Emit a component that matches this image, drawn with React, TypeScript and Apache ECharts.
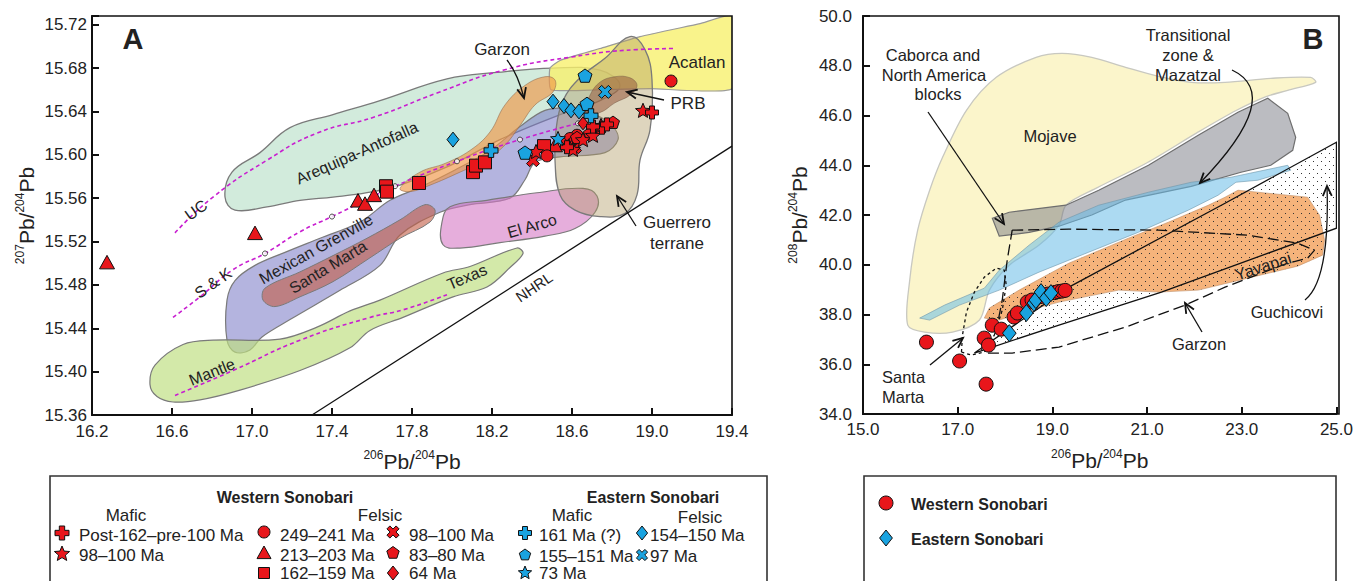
import React, { useEffect, useRef } from 'react';
import * as echarts from 'echarts';

const FONT = '"Liberation Sans", Arial, Helvetica, sans-serif';
const RED = '#e8161b';
const BLUE = '#1aa3e0';

// ---------- Panel A: 207Pb/204Pb vs 206Pb/204Pb ----------
// Western Sonobari
const wMaficPost162 = [[19.0, 15.639], [18.75, 15.625], [18.775, 15.628], [18.705, 15.626], [18.575, 15.607]];
const wMafic98 = [[18.42, 15.603], [18.955, 15.641], [18.585, 15.608], [18.655, 15.614], [18.605, 15.605], [18.705, 15.618], [18.745, 15.627]];
const wFelsic249 = [[18.475, 15.599], [19.095, 15.668], [18.625, 15.618], [18.715, 15.623], [18.59, 15.615]];
const wFelsic213 = [[16.275, 15.501], [17.015, 15.528], [17.53, 15.558], [17.565, 15.555], [17.61, 15.563], [18.515, 15.609]];
const wFelsic162 = [[17.67, 15.571], [17.675, 15.566], [17.835, 15.574], [18.105, 15.584], [18.12, 15.59], [18.165, 15.593], [18.46, 15.608]];
const wFelsic98 = [[18.405, 15.595], [18.575, 15.61], [18.615, 15.607]];
const wFelsic83 = [[18.805, 15.63], [18.625, 15.616], [18.69, 15.62]];
const wFelsic64 = [[18.655, 15.629]];
// Eastern Sonobari
const eMafic161 = [[18.195, 15.604], [18.695, 15.636]];
const eMafic155 = [[18.665, 15.673], [18.675, 15.647], [18.365, 15.602]];
const eMafic73 = [[18.53, 15.615]];
const eFelsic154 = [[18.005, 15.614], [18.505, 15.649], [18.56, 15.645], [18.595, 15.641], [18.635, 15.64]];
const eFelsic97 = [[18.765, 15.658]];

// Reference fields (outlines)
const fieldArequipa = [[16.865, 15.561], [16.9, 15.584], [17.04, 15.602], [17.19, 15.625], [17.405, 15.637], [17.64, 15.65], [17.975, 15.67], [18.225, 15.676], [18.505, 15.68], [18.74, 15.678], [18.84, 15.664], [18.74, 15.65], [18.54, 15.637], [18.24, 15.614], [17.99, 15.59], [17.74, 15.572], [17.575, 15.565], [17.405, 15.561], [17.24, 15.558], [17.075, 15.552], [16.915, 15.549]];
const fieldAcatlan = [[18.495, 15.66], [18.49, 15.68], [18.54, 15.687], [18.74, 15.698], [18.94, 15.709], [19.24, 15.721], [19.4, 15.728], [19.4, 15.661], [18.99, 15.661], [18.74, 15.66]];
const fieldGuerrero = [[18.89, 15.709], [18.965, 15.697], [19.0, 15.669], [18.99, 15.623], [18.94, 15.595], [18.925, 15.563], [18.865, 15.546], [18.74, 15.543], [18.615, 15.549], [18.54, 15.563], [18.515, 15.595], [18.52, 15.623], [18.555, 15.65], [18.64, 15.671], [18.765, 15.689]];
const fieldPRB = [[18.665, 15.639], [18.69, 15.655], [18.74, 15.667], [18.815, 15.672], [18.89, 15.671], [18.925, 15.664], [18.89, 15.655], [18.815, 15.648], [18.74, 15.639]];
const fieldGarzonA = [[17.74, 15.569], [17.84, 15.584], [17.965, 15.592], [18.09, 15.604], [18.19, 15.621], [18.265, 15.646], [18.365, 15.664], [18.465, 15.672], [18.515, 15.669], [18.505, 15.658], [18.415, 15.646], [18.34, 15.627], [18.265, 15.609], [18.165, 15.595], [18.04, 15.584], [17.89, 15.572], [17.79, 15.566]];
const fieldGrenville = [[18.83, 15.614], [18.765, 15.602], [18.54, 15.598], [18.415, 15.593], [18.365, 15.577], [18.29, 15.56], [18.09, 15.554], [17.94, 15.547], [17.74, 15.526], [17.64, 15.498], [17.44, 15.475], [17.19, 15.448], [17.05, 15.432], [16.99, 15.42], [16.915, 15.418], [16.875, 15.429], [16.875, 15.466], [16.915, 15.484], [17.015, 15.498], [17.165, 15.51], [17.34, 15.523], [17.54, 15.538], [17.69, 15.558], [17.84, 15.57], [18.015, 15.586], [18.19, 15.604], [18.34, 15.626], [18.465, 15.641], [18.59, 15.643], [18.715, 15.637], [18.805, 15.626]];
const fieldSantaMartaA = [[17.055, 15.466], [17.065, 15.477], [17.24, 15.492], [17.405, 15.507], [17.575, 15.523], [17.74, 15.54], [17.865, 15.554], [17.915, 15.549], [17.89, 15.538], [17.74, 15.523], [17.59, 15.505], [17.405, 15.483], [17.24, 15.469], [17.115, 15.46]];
const fieldElArco = [[17.955, 15.517], [17.95, 15.538], [17.99, 15.552], [18.175, 15.558], [18.425, 15.565], [18.655, 15.569], [18.725, 15.562], [18.715, 15.547], [18.615, 15.532], [18.465, 15.525], [18.24, 15.519], [18.04, 15.514]];
const fieldMantleTexas = [[16.49, 15.388], [16.515, 15.406], [16.655, 15.425], [16.805, 15.429], [17.14, 15.43], [17.325, 15.441], [17.49, 15.456], [17.64, 15.466], [17.955, 15.491], [18.09, 15.497], [18.325, 15.514], [18.355, 15.509], [18.29, 15.496], [18.175, 15.478], [18.005, 15.469], [17.755, 15.45], [17.59, 15.438], [17.49, 15.422], [17.24, 15.401], [16.94, 15.383], [16.74, 15.374], [16.605, 15.372], [16.525, 15.377]];

// Growth curves and reference line
const curveUC = [[16.615, 15.528], [16.805, 15.561], [17.075, 15.595], [17.325, 15.62], [17.615, 15.635], [17.925, 15.657], [18.255, 15.678], [18.59, 15.69], [18.925, 15.697], [19.115, 15.698]];
const curveSK = [[16.605, 15.45], [16.74, 15.469], [16.905, 15.494], [17.065, 15.509], [17.24, 15.529], [17.4, 15.543], [17.715, 15.571], [18.025, 15.594], [18.34, 15.614], [18.63, 15.629]];
const skMarks = [[17.065, 15.509], [17.4, 15.543], [17.715, 15.571], [18.025, 15.594], [18.34, 15.614], [18.63, 15.629]];
const curveMantle = [[16.615, 15.378], [16.905, 15.401], [17.24, 15.429], [17.59, 15.45], [17.755, 15.457], [17.975, 15.471]];
const lineNHRL = [[17.3, 15.36], [19.4, 15.608]];

// ---------- Panel B: 208Pb/204Pb vs 206Pb/204Pb ----------
const westernB = [[16.34, 36.89], [17.04, 36.13], [17.6, 35.2], [17.56, 37.05], [17.65, 36.77], [17.73, 37.57], [17.92, 37.41], [18.19, 37.9], [18.26, 38.06], [18.47, 38.5], [18.57, 38.58], [18.75, 38.72], [18.9, 38.82], [19.05, 38.88], [19.12, 38.92], [19.2, 38.94], [19.27, 38.97]];
const easternB = [[18.09, 37.25], [18.45, 38.06], [18.61, 38.46], [18.65, 38.58], [18.76, 38.9], [18.87, 38.66], [18.97, 38.86]];

const fieldMojave = [[15.945, 37.574], [15.987, 39.381], [16.155, 41.39], [16.408, 42.996], [16.681, 44.321], [17.185, 46.209], [17.815, 47.534], [18.655, 48.337], [19.202, 48.498], [19.832, 48.337], [20.546, 47.936], [21.239, 47.574], [21.933, 47.333], [22.647, 47.333], [23.613, 47.494], [24.454, 47.534], [24.559, 47.333], [23.97, 47.01], [23.5, 46.75], [22.88, 46.2], [22.05, 45.3], [21.0, 44.1], [19.95, 43.1], [19.29, 42.4], [19.14, 41.59], [18.72, 40.79], [18.09, 39.98], [17.67, 38.98], [17.46, 37.78], [16.89, 37.29], [16.3, 37.29]];
const fieldTransitional = [[17.731, 41.871], [18.088, 42.112], [19.286, 42.394], [19.979, 42.996], [21.029, 44.0], [22.08, 45.205], [22.92, 46.129], [23.55, 46.691], [23.97, 46.088], [24.139, 45.124], [24.076, 44.602], [23.613, 44.0], [22.983, 43.72], [21.933, 43.15], [20.546, 42.6], [19.832, 42.0], [19.139, 41.55], [18.508, 41.3], [17.878, 41.15]];
const fieldMazatzal = [[16.197, 37.855], [16.723, 38.378], [17.563, 39.06], [17.878, 39.783], [18.508, 40.787], [19.139, 41.711], [19.979, 42.394], [21.029, 42.916], [21.933, 43.317], [22.773, 43.518], [23.97, 44.0], [24.034, 43.799], [23.34, 43.398], [22.878, 43.317], [22.5, 42.795], [21.87, 42.193], [20.82, 41.309], [19.769, 40.506], [18.718, 39.703], [17.878, 38.98], [17.038, 38.378], [16.408, 37.775]];
const fieldYavapai = [[17.563, 37.855], [17.668, 38.257], [18.298, 38.98], [19.349, 40.064], [20.609, 41.068], [21.45, 41.71], [22.29, 42.39], [22.647, 42.715], [22.92, 42.996], [24.391, 42.715], [24.643, 41.992], [24.748, 40.988], [24.706, 40.386], [24.181, 39.944], [23.13, 39.462], [22.08, 38.98], [21.239, 38.9], [20.399, 38.98], [19.769, 38.739], [19.139, 38.498], [18.508, 38.177], [17.878, 37.775]];
const fieldGuchicovi = [[17.353, 36.45], [19.349, 39.1], [22.647, 42.474], [25.0, 44.924], [25.0, 41.47], [21.303, 38.9], [19.139, 37.574], [17.353, 36.45]];
const outlineGarzonB = [[18.151, 41.39], [19.349, 41.43], [21.239, 41.39], [23.13, 41.189], [24.181, 40.867], [24.538, 40.586], [24.391, 40.265], [23.97, 40.064], [22.647, 39.1], [21.807, 38.378], [20.546, 37.494], [19.139, 36.691], [18.151, 36.45], [17.626, 36.45], [17.815, 37.373], [17.941, 38.578], [18.046, 40.185], [18.151, 41.39]];
const outlineSantaMartaB = [[17.08, 36.49], [17.101, 37.173], [17.185, 38.096], [17.353, 38.9], [17.563, 39.502], [17.815, 39.863], [17.983, 39.783], [18.025, 39.181], [17.941, 38.177], [17.773, 37.173], [17.563, 36.49], [17.29, 36.37], [17.08, 36.49]];

// ---------- marker shapes (unit outlines) ----------
const starShape = (() => {
  const p: number[][] = [];
  for (let i = 0; i < 10; i++) {
    const r = i % 2 ? 0.45 : 1;
    const a = -Math.PI / 2 + (Math.PI * i) / 5;
    p.push([r * Math.cos(a), r * Math.sin(a)]);
  }
  return p;
})();
const pentagonShape = [0, 1, 2, 3, 4].map((i) => {
  const a = -Math.PI / 2 + (2 * Math.PI * i) / 5;
  return [Math.cos(a), Math.sin(a)];
});
const plusShape = (w: number) => [[-w, -1], [w, -1], [w, -w], [1, -w], [1, w], [w, w], [w, 1], [-w, 1], [-w, w], [-1, w], [-1, -w], [-w, -w]];
const crossShape = plusShape(0.32).map(([x, y]) => [(x - y) * 0.7071, (x + y) * 0.7071]);
const triangleShape = [[0, -1], [1, 0.8], [-1, 0.8]];
const diamondShape = [[0, -1], [0.8, 0], [0, 1], [-0.8, 0]];
const squareShape = [[-1, -1], [1, -1], [1, 1], [-1, 1]];

const toPath = (pts: number[][]) =>
  'path://M' + pts.map((p) => `${(p[0] * 10).toFixed(2)} ${(p[1] * 10).toFixed(2)}`).join(' L') + ' Z';

const SHAPES: Record<string, number[][] | null> = {
  circle: null,
  star: starShape,
  pentagon: pentagonShape,
  plus: plusShape(0.38),
  cross: crossShape,
  triangle: triangleShape,
  diamond: diamondShape,
  square: squareShape,
};
const symbolOf = (shape: string) => (shape === 'circle' ? 'circle' : toPath(SHAPES[shape] as number[][]));

function buildOption(stipple: any) {
  const field = (name: string, pts: number[][], xi: number, fill: any, stroke: string, smooth: number, z: number, lw = 1) => ({
    type: 'custom',
    name,
    xAxisIndex: xi,
    yAxisIndex: xi,
    clip: true,
    silent: true,
    z,
    data: [pts[0]],
    renderItem: (_p: any, api: any) => ({
      type: 'polygon',
      shape: { points: pts.map((p) => api.coord(p)), smooth },
      style: { fill, stroke, lineWidth: lw },
    }),
  });
  const line = (name: string, pts: number[][], xi: number, color: string, width: number, type: any, smooth: boolean, z = 3) => ({
    type: 'line',
    name,
    xAxisIndex: xi,
    yAxisIndex: xi,
    data: pts,
    smooth,
    symbol: 'none',
    silent: true,
    clip: true,
    z,
    lineStyle: { color, width, type },
  });
  const scatter = (name: string, pts: number[][], xi: number, shape: string, color: string, size: number, z = 6) => ({
    type: 'scatter',
    name,
    xAxisIndex: xi,
    yAxisIndex: xi,
    data: pts,
    symbol: symbolOf(shape),
    symbolKeepAspect: true,
    symbolSize: size,
    silent: true,
    z,
    itemStyle: { color, borderColor: '#111', borderWidth: 1, opacity: 1 },
  });

  const edge = '#7a7a7a';
  const series: any[] = [
    // Panel A fields
    field('Arequipa-Antofalla', fieldArequipa, 0, 'rgba(180,222,196,0.6)', edge, 0.4, 1, 1.3),
    field('Acatlan', fieldAcatlan, 0, 'rgba(247,240,110,0.8)', '#9a9a9a', 0.15, 1, 1.2),
    field('Mexican Grenville', fieldGrenville, 0, 'rgba(118,118,196,0.55)', edge, 0.35, 1, 1.2),
    field('Garzon', fieldGarzonA, 0, 'rgba(240,150,70,0.65)', 'rgba(150,110,80,0.6)', 0.4, 1, 1),
    field('Santa Marta', fieldSantaMartaA, 0, 'rgba(196,96,72,0.62)', edge, 0.35, 1, 1),
    field('El Arco', fieldElArco, 0, 'rgba(214,120,196,0.6)', edge, 0.4, 1, 1.2),
    field('Mantle-Texas', fieldMantleTexas, 0, 'rgba(190,222,128,0.68)', edge, 0.35, 1, 1.2),
    field('Guerrero terrane', fieldGuerrero, 0, 'rgba(176,156,100,0.42)', edge, 0.4, 1, 1.3),
    field('PRB', fieldPRB, 0, 'rgba(150,88,58,0.55)', 'rgba(120,90,70,0.5)', 0.4, 1, 1),
    line('UC', curveUC, 0, '#c81fd0', 1.6, [4, 3], true),
    line('S & K', curveSK, 0, '#c81fd0', 1.6, [4, 3], true),
    line('Mantle', curveMantle, 0, '#c81fd0', 1.6, [4, 3], true),
    line('NHRL', lineNHRL, 0, '#111', 1.3, 'solid', false),
    {
      type: 'scatter', name: 'S & K model ages', xAxisIndex: 0, yAxisIndex: 0, data: skMarks, symbol: 'circle', symbolSize: 5, silent: true, z: 4,
      itemStyle: { color: '#fff', borderColor: '#222', borderWidth: 1 },
    },
    scatter('Western felsic 213–203 Ma', wFelsic213, 0, 'triangle', RED, 15),
    scatter('Western felsic 162–159 Ma', wFelsic162, 0, 'square', RED, 13),
    scatter('Western felsic 249–241 Ma', wFelsic249, 0, 'circle', RED, 12),
    scatter('Western felsic 98–100 Ma', wFelsic98, 0, 'cross', RED, 13),
    scatter('Western felsic 83–80 Ma', wFelsic83, 0, 'pentagon', RED, 13),
    scatter('Western felsic 64 Ma', wFelsic64, 0, 'diamond', RED, 13),
    scatter('Western mafic 98–100 Ma', wMafic98, 0, 'star', RED, 15),
    scatter('Western mafic post-162–pre-100 Ma', wMaficPost162, 0, 'plus', RED, 13),
    scatter('Eastern felsic 154–150 Ma', eFelsic154, 0, 'diamond', BLUE, 15),
    scatter('Eastern mafic 155–151 Ma', eMafic155, 0, 'pentagon', BLUE, 14),
    scatter('Eastern mafic 161 Ma (?)', eMafic161, 0, 'plus', BLUE, 14),
    scatter('Eastern mafic 73 Ma', eMafic73, 0, 'star', BLUE, 15),
    scatter('Eastern felsic 97 Ma', eFelsic97, 0, 'cross', BLUE, 13),

    // Panel B fields
    field('Mojave', fieldMojave, 1, 'rgba(250,242,185,0.75)', '#c8c8c0', 0.3, 1, 1.3),
    field('Transitional zone & Mazatzal', fieldTransitional, 1, 'rgba(120,122,132,0.5)', '#6e6e6e', 0, 1, 1.2),
    field('Mazatzal', fieldMazatzal, 1, 'rgba(104,188,232,0.55)', 'rgba(110,150,170,0.6)', 0, 1, 1),
    field('Yavapai', fieldYavapai, 1, 'rgba(242,160,90,0.8)', 'rgba(190,140,100,0.6)', 0, 1, 1),
    field('Yavapai stipple', fieldYavapai, 1, stipple, 'none', 0, 2),
    field('Guchicovi', fieldGuchicovi, 1, stipple, '#111', 0, 2, 1.3),
    line('Garzon', outlineGarzonB, 1, '#111', 1.3, [11, 5], false),
    line('Santa Marta', outlineSantaMartaB, 1, '#111', 1.3, [3, 3], false),
    scatter('Western Sonobari', westernB, 1, 'circle', RED, 14),
    scatter('Eastern Sonobari', easternB, 1, 'diamond', BLUE, 17),
  ];

  const lbl = { color: '#222', fontSize: 17, fontFamily: FONT };
  const nameRich = {
    s: { fontSize: 12, fontFamily: FONT, color: '#222', verticalAlign: 'top', lineHeight: 13 },
    m: { fontSize: 21, fontFamily: FONT, color: '#222', lineHeight: 24 },
  };
  const commonAxis = {
    type: 'value',
    splitLine: { show: false },
    axisLine: { show: true, lineStyle: { color: '#111', width: 2 } },
    axisTick: { show: true, inside: true, length: 7, lineStyle: { color: '#111', width: 2 } },
    nameLocation: 'middle',
    nameTextStyle: { fontFamily: FONT, rich: nameRich },
  };

  // annotation helpers
  const T = (text: string, x: number, y: number, opts: any = {}) => ({
    type: 'text',
    x,
    y,
    rotation: ((opts.rot || 0) * Math.PI) / 180,
    z: 30,
    silent: true,
    style: {
      text,
      fill: '#222',
      font: `${opts.bold ? 'bold ' : ''}${opts.size || 17}px ${FONT}`,
      textAlign: opts.align || 'center',
      textVerticalAlign: 'middle',
    },
  });
  const arrow = (x1: number, y1: number, x2: number, y2: number, cx?: number, cy?: number) => {
    const els: any[] = [];
    const st = { stroke: '#111', lineWidth: 1.3, fill: 'none' };
    if (cx !== undefined) els.push({ type: 'bezierCurve', z: 30, silent: true, shape: { x1, y1, x2, y2, cpx1: cx, cpy1: cy }, style: st });
    else els.push({ type: 'line', z: 30, silent: true, shape: { x1, y1, x2, y2 }, style: st });
    const fx = cx !== undefined ? cx : x1;
    const fy = cy !== undefined ? (cy as number) : y1;
    const ang = Math.atan2(y2 - fy, x2 - fx);
    const L = 11;
    const a = 0.42;
    els.push({
      type: 'polyline', z: 30, silent: true,
      shape: { points: [[x2 - L * Math.cos(ang - a), y2 - L * Math.sin(ang - a)], [x2, y2], [x2 - L * Math.cos(ang + a), y2 - L * Math.sin(ang + a)]] },
      style: { stroke: '#111', lineWidth: 1.8, fill: 'none' },
    });
    return els;
  };
  const legendSymbol = (shape: string, color: string, cx: number, cy: number, size: number) => {
    const style = { fill: color, stroke: '#111', lineWidth: 1 };
    if (shape === 'circle') return { type: 'circle', z: 30, shape: { cx, cy, r: size / 2 }, style };
    const pts = SHAPES[shape] as number[][];
    return { type: 'polygon', z: 30, shape: { points: pts.map((p) => [cx + (p[0] * size) / 2, cy + (p[1] * size) / 2]) }, style };
  };

  const legendRows: [string, string, number, number, number, string, number, number][] = [
    ['plus', RED, 62, 533, 14, 'Post-162–pre-100 Ma', 79, 535],
    ['star', RED, 62, 554, 16, '98–100 Ma', 79, 555],
    ['circle', RED, 264, 532, 12, '249–241 Ma', 280, 535],
    ['triangle', RED, 264, 553, 14, '213–203 Ma', 280, 555],
    ['square', RED, 264, 573, 11, '162–159 Ma', 280, 573],
    ['cross', RED, 393, 532, 13, '98–100 Ma', 409, 535],
    ['pentagon', RED, 393, 553, 13, '83–80 Ma', 409, 555],
    ['diamond', RED, 393, 573, 14, '64 Ma', 409, 573],
    ['plus', BLUE, 525, 533, 13, '161 Ma (?)', 539, 535],
    ['pentagon', BLUE, 525, 555, 12, '155–151 Ma', 539, 556],
    ['star', BLUE, 525, 573, 14, '73 Ma', 539, 573],
    ['diamond', BLUE, 642, 533, 14, '154–150 Ma', 650, 535],
    ['cross', BLUE, 642, 555, 12, '97 Ma', 650, 556],
  ];

  const graphics: any[] = [
    // plot frames
    { type: 'rect', z: 40, silent: true, shape: { x: 92, y: 16, width: 640, height: 399 }, style: { fill: 'none', stroke: '#111', lineWidth: 1.6 } },
    { type: 'rect', z: 40, silent: true, shape: { x: 863, y: 16, width: 476, height: 398 }, style: { fill: 'none', stroke: '#111', lineWidth: 1.6 } },
    // panel A labels
    T('A', 133, 39, { size: 29, bold: true }),
    T('UC', 196, 210, { rot: 35, size: 16 }),
    T('S & K', 213, 283, { rot: 35, size: 16 }),
    T('Mantle', 212, 372, { rot: 22, size: 16 }),
    T('Arequipa-Antofalla', 357, 153, { rot: 24, size: 16 }),
    T('Mexican Grenville', 316, 249, { rot: 29, size: 16 }),
    T('Santa Marta', 328, 267, { rot: 31, size: 16 }),
    T('El Arco', 532, 226, { rot: 16, size: 16 }),
    T('Texas', 467, 277, { rot: 23, size: 16 }),
    T('NHRL', 534, 287, { rot: 34, size: 15 }),
    T('Garzon', 502, 49),
    T('Acatlan', 697, 62),
    T('PRB', 688, 103),
    T('Guerrero', 677, 222),
    T('terrane', 677, 243),
    ...arrow(507, 60, 524, 98, 518, 74),
    ...arrow(664, 100, 627, 92),
    ...arrow(636, 226, 617, 196),
    // panel B labels
    T('B', 1313, 39, { size: 29, bold: true }),
    T('Caborca and', 933, 55, { size: 16.5 }),
    T('North America', 934, 75, { size: 16.5 }),
    T('blocks', 938, 94, { size: 16.5 }),
    T('Mojave', 1050, 136, { size: 16.5 }),
    T('Transitional', 1188, 35, { size: 16.5 }),
    T('zone &', 1188, 55, { size: 16.5 }),
    T('Mazatzal', 1188, 75, { size: 16.5 }),
    T('Yavapai', 1263, 266, { rot: 18, size: 16.5 }),
    T('Guchicovi', 1287, 312, { size: 16.5 }),
    T('Garzon', 1199, 344, { size: 16.5 }),
    T('Santa', 882, 377, { size: 16.5, align: 'left' }),
    T('Marta', 882, 397, { size: 16.5, align: 'left' }),
    ...arrow(928, 112, 1004, 224),
    ...arrow(1232, 70, 1200, 183, 1285, 95),
    ...arrow(930, 365, 963, 338),
    ...arrow(1202, 332, 1185, 303),
    ...arrow(1305, 300, 1327, 186, 1330, 280),
    // legend boxes
    { type: 'rect', z: 40, silent: true, shape: { x: 50, y: 476, width: 717, height: 130 }, style: { fill: 'none', stroke: '#333', lineWidth: 1.6 } },
    { type: 'rect', z: 40, silent: true, shape: { x: 864, y: 476, width: 472, height: 130 }, style: { fill: 'none', stroke: '#333', lineWidth: 1.6 } },
    T('Western Sonobari', 285, 497, { bold: true, size: 16 }),
    T('Mafic', 126, 515),
    T('Felsic', 380, 515),
    T('Eastern Sonobari', 653, 497, { bold: true, size: 16 }),
    T('Mafic', 572, 515),
    T('Felsic', 700, 517),
    ...legendRows.map((r) => legendSymbol(r[0], r[1], r[2], r[3], r[4])),
    ...legendRows.map((r) => T(r[5], r[6], r[7], { align: 'left' })),
    legendSymbol('circle', RED, 886, 503, 14),
    legendSymbol('diamond', BLUE, 886, 538, 16),
    T('Western Sonobari', 911, 504, { bold: true, size: 16, align: 'left' }),
    T('Eastern Sonobari', 911, 539, { bold: true, size: 16, align: 'left' }),
  ];

  return {
    animation: false,
    backgroundColor: '#fff',
    textStyle: { fontFamily: FONT },
    grid: [
      { left: 92, top: 16, width: 640, height: 399 },
      { left: 863, top: 16, width: 476, height: 398 },
    ],
    xAxis: [
      {
        ...commonAxis, gridIndex: 0, min: 16.2, max: 19.4, interval: 0.4,
        axisLabel: { ...lbl, margin: 8, formatter: (v: number) => v.toFixed(1) },
        name: '{s|206}{m|Pb/}{s|204}{m|Pb}', nameGap: 34,
      },
      {
        ...commonAxis, gridIndex: 1, min: 15, max: 25, interval: 2,
        axisLabel: { ...lbl, margin: 7, formatter: (v: number) => v.toFixed(1) },
        name: '{s|206}{m|Pb/}{s|204}{m|Pb}', nameGap: 34,
      },
    ],
    yAxis: [
      {
        ...commonAxis, gridIndex: 0, min: 15.36, max: 15.728, interval: 0.04,
        axisLabel: {
          ...lbl, margin: 5,
          formatter: (v: number) => (Math.abs(v * 25 - Math.round(v * 25)) < 1e-6 ? v.toFixed(2) : ''),
        },
        name: '{s|207}{m|Pb/}{s|204}{m|Pb}', nameGap: 54,
      },
      {
        ...commonAxis, gridIndex: 1, min: 34, max: 50, interval: 2,
        axisLabel: { ...lbl, margin: 11, formatter: (v: number) => v.toFixed(1) },
        name: '{s|208}{m|Pb/}{s|204}{m|Pb}', nameGap: 52,
      },
    ],
    series,
    graphic: graphics,
  };
}

function makeStipple() {
  const c = document.createElement('canvas');
  c.width = 8;
  c.height = 8;
  const ctx = c.getContext('2d');
  if (ctx) {
    ctx.fillStyle = '#333';
    ctx.fillRect(1, 1, 1, 1);
    ctx.fillRect(5, 5, 1, 1);
  }
  return { image: c, repeat: 'repeat' };
}

export default function App() {
  const ref = useRef<HTMLDivElement>(null);
  useEffect(() => {
    document.body.style.margin = '0';
    const chart = echarts.init(ref.current as HTMLDivElement, null, { renderer: 'svg' });
    chart.setOption(buildOption(makeStipple()) as any);
    return () => chart.dispose();
  }, []);
  return <div ref={ref} style={{ width: 1356, height: 581, background: '#fff' }} />;
}
